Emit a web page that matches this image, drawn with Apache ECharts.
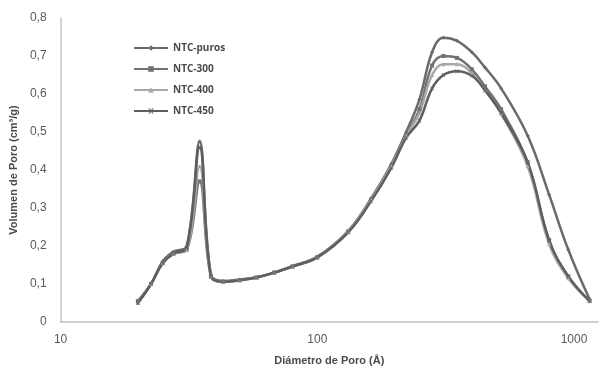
<!DOCTYPE html>
<html>
<head>
<meta charset="utf-8">
<script src="https://cdn.jsdelivr.net/npm/echarts@6/dist/echarts.min.js"></script>
<style>
  html, body { margin: 0; padding: 0; background: #fff; }
  #chart { width: 602px; height: 371px; }
</style>
</head>
<body>
<div id="chart"></div>
<script>
// pore diameter (Å), shared by all series
const diam = [20, 22.5, 25, 27.5, 31, 34.8, 38.5, 43, 50, 58, 68, 80, 100, 132, 162, 194, 222, 250, 280, 310, 350, 400, 450, 520, 660, 800, 950, 1150];
const puros = [0.05, 0.10, 0.16, 0.185, 0.20, 0.475, 0.125, 0.108, 0.112, 0.118, 0.13, 0.147, 0.172, 0.24, 0.325, 0.415, 0.50, 0.586, 0.71, 0.748, 0.74, 0.71, 0.67, 0.615, 0.49, 0.335, 0.19, 0.06];
const ntc300 = [0.055, 0.10, 0.155, 0.18, 0.19, 0.37, 0.12, 0.106, 0.11, 0.117, 0.13, 0.146, 0.17, 0.238, 0.322, 0.41, 0.49, 0.56, 0.675, 0.70, 0.695, 0.665, 0.62, 0.56, 0.42, 0.215, 0.12, 0.055];
const ntc400 = [0.05, 0.10, 0.155, 0.18, 0.19, 0.41, 0.12, 0.106, 0.11, 0.117, 0.13, 0.146, 0.17, 0.238, 0.322, 0.41, 0.49, 0.55, 0.65, 0.678, 0.678, 0.655, 0.61, 0.548, 0.41, 0.205, 0.115, 0.055];
const ntc450 = [0.05, 0.10, 0.155, 0.18, 0.195, 0.46, 0.12, 0.106, 0.11, 0.117, 0.13, 0.146, 0.17, 0.236, 0.318, 0.405, 0.485, 0.53, 0.615, 0.65, 0.66, 0.648, 0.61, 0.55, 0.42, 0.215, 0.12, 0.055];
const yTicks = ['0', '0,1', '0,2', '0,3', '0,4', '0,5', '0,6', '0,7', '0,8'];

const xPath = 'path://M0,0L2,0L5,3L8,0L10,0L6,5L10,10L8,10L5,7L2,10L0,10L4,5Z';
const seriesDefs = [
  { name: 'NTC-puros', data: puros, color: '#6a6a6a', symbol: 'diamond' },
  { name: 'NTC-300', data: ntc300, color: '#727272', symbol: 'rect' },
  { name: 'NTC-400', data: ntc400, color: '#a8a8a8', symbol: 'triangle' },
  { name: 'NTC-450', data: ntc450, color: '#5e5e5e', symbol: xPath },
];

const chart = echarts.init(document.getElementById('chart'));
chart.setOption({
  animation: false,
  grid: { left: 57, right: 4, top: 18, bottom: 47 },
  legend: {
    orient: 'vertical',
    left: 128,
    top: 38,
    itemGap: 11,
    itemWidth: 34,
    itemHeight: 7,
    textStyle: { fontFamily: 'Open Sans', fontWeight: 'bold', fontSize: 10, color: '#4a4a4a' },
    data: seriesDefs.map(s => s.name),
  },
  xAxis: {
    type: 'log',
    logBase: 10,
    min: 10,
    max: 1240,
    name: 'Diámetro de Poro (Å)',
    nameLocation: 'middle',
    nameGap: 33,
    nameTextStyle: { fontFamily: 'Liberation Sans', fontWeight: 'bold', fontSize: 11, color: '#4a4a4a' },
    axisLine: { lineStyle: { color: '#c4c4c4', width: 1.5 } },
    axisTick: { show: false },
    splitLine: { show: false },
    axisLabel: {
      margin: 12,
      showMaxLabel: false,
      fontFamily: 'Liberation Sans', fontSize: 12, color: '#595959',
      formatter: v => ([10, 100, 1000].includes(Math.round(v)) ? String(Math.round(v)) : ''),
    },
  },
  yAxis: {
    type: 'value',
    min: 0,
    max: 0.8,
    interval: 0.1,
    name: 'Volumen de Poro (cm³/g)',
    nameLocation: 'middle',
    nameGap: 38,
    nameTextStyle: { fontFamily: 'Liberation Sans', fontWeight: 'bold', fontSize: 11, color: '#4a4a4a' },
    axisLine: { show: true, lineStyle: { color: '#c4c4c4', width: 1.5 } },
    axisTick: { show: false },
    splitLine: { show: false },
    axisLabel: {
      margin: 14,
      fontFamily: 'Liberation Sans', fontSize: 12, color: '#595959',
      formatter: v => yTicks[Math.round(v * 10)],
    },
  },
  series: seriesDefs.map(s => ({
    name: s.name,
    type: 'line',
    smooth: 0.4,
    symbol: s.symbol,
    symbolSize: 4,
    data: diam.map((d, i) => [d, s.data[i]]),
    lineStyle: { color: s.color, width: 2.5 },
    itemStyle: { color: s.color },
  })),
});
</script>
</body>
</html>
